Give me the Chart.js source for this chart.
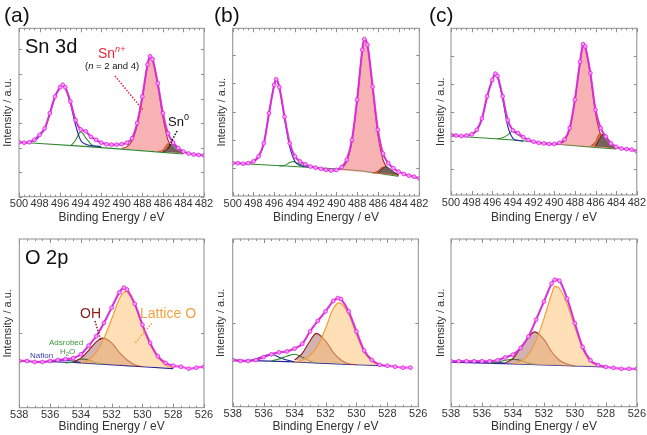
<!DOCTYPE html>
<html>
<head>
<meta charset="utf-8">
<script src="https://cdn.jsdelivr.net/npm/chart.js@4.4.0/dist/chart.umd.min.js"></script>
<style>
  body { margin: 0; background: #fff; width: 647px; height: 435px; position: relative; overflow: hidden; }
  canvas { position: absolute; }
</style>
</head>
<body>
<canvas id="pa"></canvas>
<canvas id="pb"></canvas>
<canvas id="pc"></canvas>
<canvas id="pd"></canvas>
<canvas id="pe"></canvas>
<canvas id="pf"></canvas>
<script>
// ---- Sn 3d spectra (intensity in arbitrary units) ----
const snE_a = [500, 499.5, 499, 498.5, 498, 497.5, 497, 496.5, 496, 495.75, 495.5, 495, 494.5, 494, 493.5, 493, 492.5, 492, 491.5, 491, 490.5, 490, 489.5, 489, 488.5, 488, 487.5, 487.25, 487, 486.5, 486, 485.5, 485, 484.5, 484, 483.5, 483, 482.5, 482];
const snI_a = [1.11, 1.10, 1.11, 1.16, 1.26, 1.39, 1.70, 2.04, 2.23, 2.28, 2.23, 1.94, 1.56, 1.37, 1.33, 1.22, 1.16, 1.10, 1.07, 1.06, 1.06, 1.07, 1.10, 1.19, 1.50, 2.04, 2.69, 2.86, 2.80, 2.31, 1.70, 1.29, 1.10, 0.99, 0.92, 0.88, 0.86, 0.85, 0.84];
const snE_b = [500, 499.5, 499, 498.5, 498, 497.5, 497, 496.5, 496, 495.8, 495.5, 495, 494.5, 494, 493.5, 493, 492.5, 492, 491.5, 491, 490.5, 490, 489.5, 489, 488.5, 488, 487.5, 487.3, 487, 486.5, 486, 485.5, 485, 484.5, 484, 483.5, 483, 482.5, 482];
const snI_b = [0.09, 0.09, 0.08, 0.09, 0.12, 0.21, 0.44, 0.97, 1.47, 1.57, 1.43, 0.91, 0.44, 0.21, 0.12, 0.07, 0.03, 0.01, -0.01, -0.03, -0.04, -0.03, 0.02, 0.15, 0.50, 1.21, 2.09, 2.28, 2.18, 1.44, 0.68, 0.26, 0.09, 0.00, -0.06, -0.10, -0.13, -0.15, -0.18];
const snE_c = [500, 499.5, 499, 498.5, 498, 497.5, 497, 496.5, 496, 495.7, 495.5, 495, 494.5, 494, 493.5, 493, 492.5, 492, 491.5, 491, 490.5, 490, 489.5, 489, 488.5, 488, 487.5, 487.2, 487, 486.5, 486, 485.5, 485, 484.5, 484, 483.5, 483, 482.5, 482];
const snI_c = [0.10, 0.09, 0.08, 0.09, 0.11, 0.19, 0.39, 0.78, 1.07, 1.18, 1.14, 0.78, 0.36, 0.18, 0.13, 0.06, 0.01, -0.02, -0.04, -0.05, -0.06, -0.06, -0.04, 0.02, 0.22, 0.72, 1.39, 1.70, 1.66, 1.19, 0.54, 0.22, 0.07, -0.05, -0.11, -0.14, -0.15, -0.16, -0.19];

// Sn 3d fitted components
const pinkE_a = [490, 489.5, 489, 488.5, 488, 487.5, 487.25, 487, 486.5, 486, 485.5, 485, 484.5, 484];
const pinkI_a = [0.98, 1.02, 1.14, 1.46, 2.00, 2.66, 2.84, 2.77, 2.27, 1.62, 1.15, 0.98, 0.92, 0.88];
const orangeE_a = [486.5, 486, 485.5, 485, 484.5];
const orangeI_a = [0.92, 0.95, 1.08, 0.98, 0.90];
const grayE_a = [486, 485.5, 485, 484.5, 484];
const grayI_a = [0.91, 0.98, 1.10, 0.98, 0.89];
const blueE_a = [498.5, 498, 497.5, 497, 496.5, 496, 495.75, 495.5, 495, 494.5, 494, 493.5, 493, 492.5, 492];
const blueI_a = [1.12, 1.24, 1.38, 1.68, 2.02, 2.22, 2.27, 2.21, 1.90, 1.46, 1.15, 1.07, 1.04, 1.03, 1.02];
const greenE_a = [495, 494.5, 494, 493.5, 493, 492.5];
const greenI_a = [1.03, 1.15, 1.32, 1.20, 1.07, 1.02];
const baseE_a = [500, 494, 490, 484];
const baseI_a = [1.11, 1.03, 0.97, 0.87];

const pinkE_b = [490, 489.5, 489, 488.5, 488, 487.5, 487.3, 487, 486.5, 486, 485.5, 485, 484.5, 484];
const pinkI_b = [-0.03, 0.00, 0.12, 0.47, 1.18, 2.07, 2.26, 2.16, 1.40, 0.60, 0.15, -0.02, -0.08, -0.12];
const orangeE_b = [486.5, 486, 485.5, 485, 484.5, 484];
const orangeI_b = [-0.09, -0.05, 0.02, -0.03, -0.10, -0.13];
const grayE_b = [486, 485.5, 485.2, 485, 484.5, 484];
const grayI_b = [-0.08, 0.00, 0.03, 0.01, -0.06, -0.12];
const blueE_b = [498, 497.5, 497, 496.5, 496, 495.8, 495.5, 495, 494.5, 494, 493.5, 493, 492.5];
const blueI_b = [0.11, 0.20, 0.43, 0.96, 1.46, 1.56, 1.42, 0.88, 0.38, 0.12, 0.05, 0.03, 0.02];
const greenE_b = [495.5, 495, 494.5, 494.2, 494, 493.5, 493];
const greenI_b = [0.04, 0.05, 0.10, 0.12, 0.11, 0.07, 0.04];
const baseE_b = [500, 494, 488, 484];
const baseI_b = [0.09, 0.03, -0.04, -0.14];

const pinkE_c = [490, 489.5, 489, 488.5, 488, 487.5, 487.2, 487, 486.5, 486, 485.5, 485, 484.5, 484];
const pinkI_c = [-0.07, -0.05, 0.00, 0.20, 0.70, 1.37, 1.68, 1.64, 1.16, 0.48, 0.10, -0.05, -0.11, -0.14];
const orangeE_c = [486.5, 486, 485.6, 485.3, 485, 484.5, 484];
const orangeI_c = [-0.10, -0.02, 0.12, 0.10, 0.00, -0.10, -0.14];
const grayE_c = [486, 485.5, 485.2, 485, 484.5, 484];
const grayI_c = [-0.10, 0.06, 0.12, 0.08, -0.04, -0.13];
const blueE_c = [498, 497.5, 497, 496.5, 496, 495.7, 495.5, 495, 494.5, 494, 493.5, 493];
const blueI_c = [0.10, 0.18, 0.38, 0.77, 1.06, 1.17, 1.13, 0.74, 0.25, 0.04, 0.00, -0.01];
const greenE_c = [495.5, 495, 494.5, 494.1, 493.5, 493, 492.5];
const greenI_c = [0.03, 0.05, 0.10, 0.16, 0.10, 0.04, 0.01];
const baseE_c = [500, 494, 490, 484];
const baseI_c = [0.08, 0.01, -0.06, -0.15];

// ---- O region spectra ----
const oE_d = [538, 537.5, 537, 536.5, 536, 535.5, 535, 534.5, 534, 533.5, 533, 532.5, 532, 531.5, 531.2, 531, 530.5, 530, 529.5, 529, 528.5, 528, 527.5, 527, 526.5, 526];
const oI_d = [-0.29, -0.29, -0.30, -0.30, -0.29, -0.28, -0.27, -0.26, -0.22, -0.13, -0.03, 0.11, 0.27, 0.43, 0.48, 0.46, 0.31, 0.09, -0.10, -0.24, -0.31, -0.34, -0.35, -0.37, -0.36, -0.35];
const oE_e = [538, 537.5, 537, 536.5, 536, 535.5, 535, 534.5, 534, 533.5, 533, 532.5, 532, 531.5, 531.2, 531, 530.5, 530, 529.5, 529, 528.5, 528, 527.5, 527, 526.5];
const oI_e = [-0.39, -0.40, -0.40, -0.39, -0.36, -0.33, -0.31, -0.30, -0.27, -0.22, -0.09, 0.02, 0.12, 0.23, 0.26, 0.25, 0.12, -0.09, -0.29, -0.39, -0.44, -0.45, -0.46, -0.47, -0.47];
const oE_f = [538, 537.5, 537, 536.5, 536, 535.5, 535, 534.5, 534, 533.5, 533, 532.5, 532, 531.5, 531.3, 531, 530.5, 530, 529.5, 529, 528.5, 528, 527.5, 527, 526.5, 526];
const oI_f = [-0.40, -0.40, -0.40, -0.40, -0.40, -0.40, -0.39, -0.36, -0.33, -0.26, -0.14, 0.04, 0.23, 0.42, 0.46, 0.45, 0.26, 0.00, -0.25, -0.39, -0.44, -0.46, -0.47, -0.48, -0.48, -0.48];

// O components: lattice O, OH, adsorbed H2O, Nafion, baseline
const latE_d = [534, 533.5, 533, 532.5, 532, 531.5, 531.1, 530.5, 530, 529.5, 529, 528.5, 528];
const latI_d = [-0.31, -0.28, -0.20, -0.05, 0.15, 0.36, 0.44, 0.30, 0.07, -0.12, -0.25, -0.33, -0.36];
const ohE_d = [534.5, 534, 533.5, 533, 532.6, 532, 531.5, 531, 530.5, 530];
const ohI_d = [-0.30, -0.26, -0.18, -0.09, -0.05, -0.10, -0.20, -0.28, -0.33, -0.35];
const h2oE_d = [535, 534.5, 534, 533.8, 533.5, 533, 532.5];
const h2oI_d = [-0.31, -0.30, -0.27, -0.27, -0.28, -0.31, -0.32];
const nafE_d = [536, 535.5, 535, 534.5, 534];
const nafI_d = [-0.30, -0.29, -0.285, -0.29, -0.305];
const obaseE_d = [538, 534, 530, 528];
const obaseI_d = [-0.29, -0.31, -0.35, -0.37];

const latE_e = [534, 533.5, 533, 532.5, 532, 531.5, 531.1, 530.5, 530, 529.5, 529, 528.5, 528];
const latI_e = [-0.41, -0.39, -0.34, -0.24, -0.06, 0.15, 0.21, 0.09, -0.12, -0.31, -0.40, -0.44, -0.45];
const ohE_e = [534, 533.5, 533, 532.6, 532, 531.5, 531, 530.5, 530];
const ohI_e = [-0.39, -0.32, -0.19, -0.11, -0.19, -0.31, -0.39, -0.43, -0.44];
const h2oE_e = [535.5, 535, 534.5, 534, 533.5, 533, 532.5];
const h2oI_e = [-0.40, -0.38, -0.35, -0.33, -0.36, -0.40, -0.42];
const nafE_e = [537, 536.5, 536, 535.5, 535, 534.5, 534];
const nafI_e = [-0.40, -0.38, -0.35, -0.33, -0.36, -0.39, -0.41];
const obaseE_e = [538, 534, 530, 528];
const obaseI_e = [-0.39, -0.41, -0.44, -0.45];

const latE_f = [534, 533.5, 533, 532.5, 532, 531.5, 531.3, 531, 530.5, 530, 529.5, 529, 528.5, 528];
const latI_f = [-0.43, -0.40, -0.33, -0.18, 0.05, 0.31, 0.39, 0.37, 0.20, -0.04, -0.27, -0.40, -0.45, -0.46];
const ohE_f = [534.5, 534, 533.5, 533, 532.6, 532, 531.5, 531, 530.5, 530];
const ohI_f = [-0.42, -0.37, -0.26, -0.15, -0.09, -0.17, -0.30, -0.39, -0.43, -0.45];
const h2oE_f = [535.5, 535, 534.5, 534, 533.5, 533, 532.5];
const h2oI_f = [-0.42, -0.41, -0.39, -0.38, -0.39, -0.42, -0.43];
const nafE_f = [536.5, 536, 535.5, 535, 534.5];
const nafI_f = [-0.415, -0.41, -0.41, -0.415, -0.42];
const obaseE_f = [538, 534, 530, 528];
const obaseI_f = [-0.41, -0.43, -0.45, -0.46];

// axis ranges and tick labels
const snRange = [482, 500];
const oRange = [526, 538];
const snTickLabels = [500, 498, 496, 494, 492, 490, 488, 486, 484, 482];
const oTickLabels = [538, 536, 534, 532, 530, 528, 526];
const oFitStart = 528; // fitted curves stop here

const FONT = '"Liberation Sans", Arial, sans-serif';
const TXT = '#333';

function pts(E, I) {
  return E.map((e, i) => ({ x: e, y: I[i] }));
}

function measured(E, I) {
  return {
    data: pts(E, I),
    borderColor: 'rgba(238, 50, 238, 0.85)', borderWidth: 2.2,
    pointRadius: 1.9, pointBackgroundColor: '#ff9cff', pointBorderColor: '#e01ee0', pointBorderWidth: 0.8,
    fill: false, tension: 0.3
  };
}

function curve(data, color, width, fillColor) {
  return {
    data,
    borderColor: color, borderWidth: width, pointRadius: 0,
    fill: fillColor ? 'shape' : false, backgroundColor: fillColor || 'transparent',
    cubicInterpolationMode: 'monotone'
  };
}

function snSets(E, I, gray, orange, pink, blue, green, base) {
  return [
    measured(E, I),
    curve(pts(E, I), '#1c1c1c', 1.1),
    curve(pts(gray[0], gray[1]), '#2a2a2a', 1, 'rgba(95, 95, 95, 0.8)'),
    curve(pts(orange[0], orange[1]), '#c9461a', 1, 'rgba(214, 84, 40, 0.75)'),
    curve(pts(pink[0], pink[1]), '#b43030', 1.1, 'rgba(242, 128, 128, 0.6)'),
    curve(pts(blue[0], blue[1]), '#1f2a9c', 1.1),
    curve(pts(green[0], green[1]), '#2d8a2d', 1.1),
    curve(pts(base[0], base[1]), '#2d8a2d', 1.1)
  ];
}

function oSets(E, I, lat, oh, h2o, naf, base) {
  return [
    measured(E, I),
    curve(pts(E, I).filter(p => p.x >= oFitStart), '#1c1c1c', 1.1),
    curve(pts(lat[0], lat[1]), '#f39a32', 1.1, 'rgba(255, 196, 120, 0.55)'),
    curve(pts(oh[0], oh[1]), '#8b1c1c', 1.1, 'rgba(150, 72, 72, 0.42)'),
    curve(pts(h2o[0], h2o[1]), '#2d8a2d', 1.1),
    curve(pts(naf[0], naf[1]), '#23239a', 1.1),
    curve(pts(base[0], base[1]), '#23239a', 1.1)
  ];
}

function drawParts(ctx, x, y, parts) {
  let cx = x;
  parts.forEach(p => {
    ctx.font = (p.style || '') + ' ' + p.size + 'px ' + FONT;
    ctx.fillStyle = p.color || '#111';
    ctx.fillText(p.t, cx, y - (p.raise || 0));
    cx += ctx.measureText(p.t).width;
  });
}

function framePlugin(notes) {
  return {
    id: 'frame',
    afterDatasetsDraw(chart) {
      const { ctx, chartArea: a, scales: { x, y } } = chart;
      ctx.save();
      ctx.strokeStyle = '#8d8d8d';
      ctx.lineWidth = 1;
      ctx.strokeRect(a.left, a.top, a.right - a.left, a.bottom - a.top);
      ctx.beginPath();
      for (let v = x.min; v <= x.max + 1e-6; v += 0.5) {
        const px = Math.round(x.getPixelForValue(v)) + 0.5;
        const len = Math.abs(v % 2) < 1e-6 ? 4 : 2;
        ctx.moveTo(px, a.bottom); ctx.lineTo(px, a.bottom - len);
        ctx.moveTo(px, a.top); ctx.lineTo(px, a.top + len);
      }
      y.ticks.forEach(t => {
        const py = Math.round(y.getPixelForValue(t.value)) + 0.5;
        ctx.moveTo(a.left, py); ctx.lineTo(a.left + 3, py);
        ctx.moveTo(a.right, py); ctx.lineTo(a.right - 3, py);
      });
      ctx.stroke();

      ctx.textAlign = 'left';
      ctx.textBaseline = 'alphabetic';
      (notes.lines || []).forEach(l => {
        ctx.beginPath();
        ctx.setLineDash([1.5, 1.5]);
        ctx.strokeStyle = l.color;
        ctx.lineWidth = 1.5;
        ctx.moveTo(a.left + l.x1, a.top + l.y1);
        ctx.lineTo(a.left + l.x2, a.top + l.y2);
        ctx.stroke();
      });
      ctx.setLineDash([]);
      (notes.texts || []).forEach(t => drawParts(ctx, a.left + t.dx, a.top + t.dy, t.parts));
      if (notes.label) {
        drawParts(ctx, notes.label.x, notes.label.y, [{ t: notes.label.t, size: 21, color: '#111' }]);
      }
      ctx.restore();
    }
  };
}

function panel(g, xr, yr, yStep, datasets, notes) {
  const cv = document.getElementById(g.id);
  cv.width = g.cw; cv.height = g.ch;
  cv.style.left = g.cl + 'px'; cv.style.top = g.ct + 'px';
  const yw = g.L - g.cl;
  const xh = g.ct + g.ch - g.B;
  new Chart(cv, {
    type: 'line',
    data: { datasets },
    options: {
      responsive: false, animation: false, devicePixelRatio: 1,
      layout: { padding: { top: g.T - g.ct, right: g.cl + g.cw - g.R, left: 0, bottom: 0 } },
      plugins: { legend: { display: false }, tooltip: { enabled: false } },
      scales: {
        x: {
          type: 'linear', reverse: true, min: xr[0], max: xr[1],
          grid: { display: false, drawTicks: false }, border: { display: false },
          afterBuildTicks: s => { s.ticks = g.labels.map(v => ({ value: v })); },
          ticks: { autoSkip: false, maxRotation: 0, padding: 1, color: TXT, font: { family: FONT, size: 11 } },
          title: { display: true, text: 'Binding Energy / eV', color: TXT, font: { family: FONT, size: 12 },
                   padding: { top: 0, bottom: (g.ct + g.ch - g.xtc) - 7.2 } },
          afterFit: s => { s.height = xh; }
        },
        y: {
          min: yr[0], max: yr[1],
          grid: { display: false, drawTicks: false }, border: { display: false },
          ticks: { display: false, stepSize: yStep, includeBounds: false },
          title: { display: true, text: 'Intensity / a.u.', color: TXT, font: { family: FONT, size: 11 },
                   padding: { top: (g.ytc - g.cl) - 6.6, bottom: 0 } },
          afterFit: s => { s.width = yw; }
        }
      }
    },
    plugins: [framePlugin(notes)]
  });
}

const red = '#e8283c';

panel({ id: 'pa', cl: 0, ct: 0, cw: 216, ch: 232, L: 19, R: 204, T: 28.3, B: 196.7, ytc: 8, xtc: 218, labels: snTickLabels },
  snRange, [0, 3.43], 0.5,
  snSets(snE_a, snI_a, [grayE_a, grayI_a], [orangeE_a, orangeI_a], [pinkE_a, pinkI_a], [blueE_a, blueI_a], [greenE_a, greenI_a], [baseE_a, baseI_a]),
  {
    label: { t: '(a)', x: 4, y: 21.5 },
    texts: [
      { dx: 6, dy: 24.7, parts: [{ t: 'Sn 3d', size: 20 }] },
      { dx: 79, dy: 29.2, parts: [{ t: 'Sn', size: 14, color: red }, { t: 'n+', size: 9, style: 'italic', color: red, raise: 6 }] },
      { dx: 66, dy: 40.7, parts: [{ t: '(', size: 9.5 }, { t: 'n', size: 9.5, style: 'italic' }, { t: ' = 2 and 4)', size: 9.5 }] },
      { dx: 149, dy: 97.7, parts: [{ t: 'Sn', size: 13 }, { t: '0', size: 9, raise: 6 }] }
    ],
    lines: [
      { x1: 96, y1: 47.7, x2: 124, y2: 81.7, color: red },
      { x1: 158, y1: 102.7, x2: 149, y2: 119.7, color: '#111' }
    ]
  });

panel({ id: 'pb', cl: 212, ct: 0, cw: 218, ch: 232, L: 232.7, R: 419.3, T: 28.3, B: 196, ytc: 221.5, xtc: 218, labels: snTickLabels },
  snRange, [-0.49, 2.47], 0.5,
  snSets(snE_b, snI_b, [grayE_b, grayI_b], [orangeE_b, orangeI_b], [pinkE_b, pinkI_b], [blueE_b, blueI_b], [greenE_b, greenI_b], [baseE_b, baseI_b]),
  { label: { t: '(b)', x: 2, y: 21.5 } });

panel({ id: 'pc', cl: 427, ct: 0, cw: 220, ch: 232, L: 451, R: 637.7, T: 28.3, B: 195, ytc: 441, xtc: 218, labels: snTickLabels },
  snRange, [-0.96, 1.98], 0.5,
  snSets(snE_c, snI_c, [grayE_c, grayI_c], [orangeE_c, orangeI_c], [pinkE_c, pinkI_c], [blueE_c, blueI_c], [greenE_c, greenI_c], [baseE_c, baseI_c]),
  { label: { t: '(c)', x: 2, y: 21.5 } });

panel({ id: 'pd', cl: 0, ct: 232, cw: 216, ch: 203, L: 19.3, R: 204, T: 239, B: 407.7, ytc: 8, xtc: 426.5, labels: oTickLabels },
  oRange, [-0.78, 0.99], 1,
  oSets(oE_d, oI_d, [latE_d, latI_d], [ohE_d, ohI_d], [h2oE_d, h2oI_d], [nafE_d, nafI_d], [obaseE_d, obaseI_d]),
  {
    texts: [
      { dx: 5.7, dy: 25.3, parts: [{ t: 'O 2p', size: 20 }] },
      { dx: 60.7, dy: 79.3, parts: [{ t: 'OH', size: 14, color: '#8b1c1c' }] },
      { dx: 120.7, dy: 79.3, parts: [{ t: 'Lattice O', size: 14, color: '#f5a03c' }] },
      { dx: 29.7, dy: 106, parts: [{ t: 'Adsrobed', size: 8, color: '#3a9a3a' }] },
      { dx: 40.7, dy: 114.7, parts: [{ t: 'H', size: 8, color: '#3a9a3a' }, { t: '2', size: 6, color: '#3a9a3a', raise: -2 }, { t: 'O', size: 8, color: '#3a9a3a' }] },
      { dx: 10.7, dy: 118.7, parts: [{ t: 'Nafion', size: 8, color: '#3b3bab' }] }
    ],
    lines: [
      { x1: 75.7, y1: 82, x2: 81.7, y2: 102, color: '#8b1c1c' },
      { x1: 132.4, y1: 84.3, x2: 115.7, y2: 104.3, color: '#f5a03c' }
    ]
  });

panel({ id: 'pe', cl: 212, ct: 232, cw: 218, ch: 203, L: 232.7, R: 418.3, T: 239, B: 406.7, ytc: 220.5, xtc: 426.5, labels: oTickLabels },
  oRange, [-0.88, 0.88], 1,
  oSets(oE_e, oI_e, [latE_e, latI_e], [ohE_e, ohI_e], [h2oE_e, h2oI_e], [nafE_e, nafI_e], [obaseE_e, obaseI_e]),
  {});

panel({ id: 'pf', cl: 427, ct: 232, cw: 220, ch: 203, L: 451, R: 637.7, T: 239, B: 406.7, ytc: 441, xtc: 426.5, labels: oTickLabels },
  oRange, [-0.88, 0.89], 1,
  oSets(oE_f, oI_f, [latE_f, latI_f], [ohE_f, ohI_f], [h2oE_f, h2oI_f], [nafE_f, nafI_f], [obaseE_f, obaseI_f]),
  {});
</script>
</body>
</html>
